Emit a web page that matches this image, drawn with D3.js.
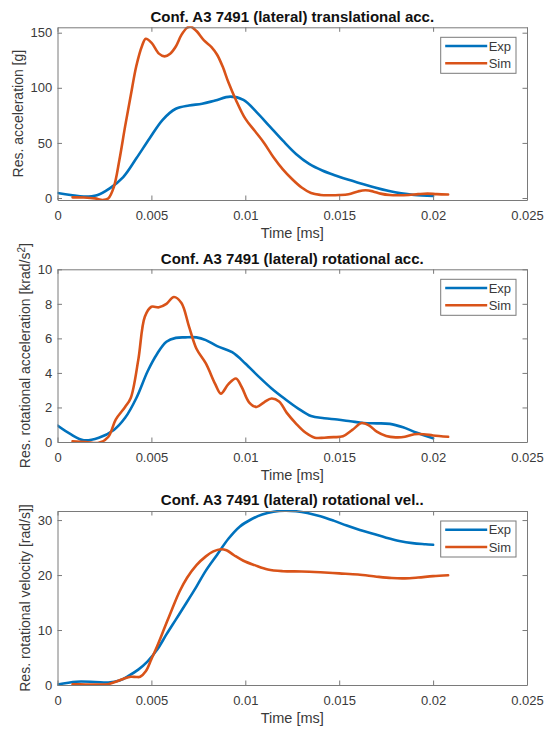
<!DOCTYPE html>
<html>
<head>
<meta charset="utf-8">
<script src="https://cdn.jsdelivr.net/npm/d3@7"></script>
<style>
  html, body { margin: 0; padding: 0; background: #fff; }
  svg { display: block; font-family: "Liberation Sans", Arial, Helvetica, sans-serif; }
</style>
</head>
<body>
<svg id="fig" width="547" height="729"></svg>
<script>
// Shared time axis (s, labelled as in the source figure)
const xTicks = [0, 0.005, 0.01, 0.015, 0.02, 0.025];
const xTickLabels = ["0", "0.005", "0.01", "0.015", "0.02", "0.025"];
const seriesNames = ["Exp", "Sim"];

// Translational acceleration [g]
const transExpTime = [0, 0.0007, 0.0014, 0.0021, 0.0028, 0.0035, 0.0042, 0.0049, 0.0056, 0.0063, 0.007, 0.0077, 0.0084, 0.0092, 0.0099, 0.0106, 0.0113, 0.012, 0.0127, 0.0134, 0.0141, 0.0148, 0.0155, 0.0162, 0.0169, 0.0176, 0.0183, 0.019, 0.02];
const transExp = [4.5, 2.8, 1.3, 2.5, 9, 19, 36, 54, 71, 81, 84, 85.5, 88.5, 92, 89, 78, 65, 52, 40, 31, 25, 20.5, 16.5, 13, 9.5, 6.5, 4.2, 2.8, 1.8];
const transSimTime = [0.0008, 0.0014, 0.002, 0.0024, 0.0027, 0.003, 0.0033, 0.0036, 0.0039, 0.0042, 0.0045, 0.0047, 0.005, 0.0054, 0.0057, 0.006, 0.0063, 0.0066, 0.0069, 0.0071, 0.0074, 0.0078, 0.0082, 0.0085, 0.0088, 0.0091, 0.0095, 0.01, 0.0105, 0.011, 0.0115, 0.012, 0.0125, 0.013, 0.0135, 0.014, 0.0145, 0.015, 0.0155, 0.016, 0.0164, 0.0168, 0.0172, 0.0177, 0.0182, 0.0187, 0.0192, 0.0197, 0.0202, 0.0208];
const transSim = [0.6, 0.5, -0.3, -1.8, -0.5, 10, 35, 65, 93, 120, 138, 144.5, 141, 131, 128.5, 131, 137.5, 148, 154.5, 155.5, 151.5, 143, 137, 130, 119, 105, 89, 72, 61, 50, 37, 26, 17, 9.5, 4.5, 2.8, 2.5, 2.7, 3.5, 6, 7, 6, 4, 2.7, 2.5, 2.8, 3.5, 4, 3.5, 3.2];
const transYTicks = [0, 50, 100, 150];

// Rotational acceleration [krad/s^2]
const rotAccExpTime = [0, 0.0007, 0.0014, 0.0022, 0.003, 0.0036, 0.0042, 0.0048, 0.0053, 0.0058, 0.0063, 0.0068, 0.0074, 0.0079, 0.0085, 0.0093, 0.01, 0.0107, 0.0114, 0.0121, 0.0128, 0.0135, 0.0142, 0.0149, 0.0156, 0.0163, 0.017, 0.0177, 0.0184, 0.0191, 0.02];
const rotAccExp = [0.95, 0.45, 0.1, 0.25, 0.7, 1.4, 2.55, 4.1, 5.1, 5.8, 6.03, 6.06, 6.06, 5.9, 5.55, 5.2, 4.55, 3.8, 3.1, 2.5, 1.95, 1.5, 1.38, 1.3, 1.2, 1.1, 1.08, 1.05, 0.85, 0.55, 0.22];
const rotAccSimTime = [0.0008, 0.0015, 0.0022, 0.0027, 0.0031, 0.0036, 0.0039, 0.0043, 0.00465, 0.005, 0.0054, 0.0058, 0.0062, 0.0066, 0.007, 0.0074, 0.0079, 0.0084, 0.0087, 0.0091, 0.0095, 0.0098, 0.0102, 0.0106, 0.011, 0.0114, 0.0118, 0.0122, 0.0127, 0.0132, 0.0137, 0.0142, 0.0147, 0.0152, 0.0157, 0.0162, 0.0166, 0.017, 0.0175, 0.018, 0.0185, 0.019, 0.0195, 0.02, 0.0208];
const rotAccSim = [0.04, 0.0, -0.05, 0.29, 1.3, 2.03, 2.55, 4.74, 7.25, 7.83, 7.8, 8.0, 8.4, 8.05, 6.7, 5.4, 4.55, 3.35, 2.8, 3.35, 3.68, 3.2, 2.3, 2.03, 2.3, 2.52, 2.35, 1.7, 1.07, 0.55, 0.25, 0.25, 0.28, 0.33, 0.7, 1.1, 0.95, 0.6, 0.35, 0.27, 0.3, 0.45, 0.45, 0.38, 0.3];
const rotAccYTicks = [0, 2, 4, 6, 8, 10];

// Rotational velocity [rad/s]
const rotVelExpTime = [0, 0.001, 0.002, 0.0027, 0.0033, 0.0038, 0.0043, 0.0048, 0.0053, 0.0058, 0.0063, 0.0068, 0.0074, 0.0079, 0.0085, 0.0091, 0.0097, 0.0103, 0.0109, 0.0115, 0.0121, 0.0127, 0.0133, 0.014, 0.0147, 0.0154, 0.0161, 0.0168, 0.0175, 0.0182, 0.0189, 0.0196, 0.02];
const rotVelExp = [0.1, 0.6, 0.55, 0.45, 0.8, 1.7, 2.8, 4.3, 6.4, 9.2, 11.9, 14.6, 17.9, 20.8, 23.7, 26.6, 28.8, 30.1, 31.0, 31.5, 31.7, 31.6, 31.3, 30.7, 29.9, 29.0, 28.2, 27.5, 26.8, 26.2, 25.8, 25.6, 25.5];
const rotVelSimTime = [0.0008, 0.0015, 0.0022, 0.0027, 0.0031, 0.0035, 0.0039, 0.0042, 0.0044, 0.0047, 0.005, 0.0053, 0.0057, 0.0061, 0.0065, 0.0069, 0.0074, 0.0079, 0.0083, 0.0087, 0.009, 0.0094, 0.0099, 0.0105, 0.0112, 0.012, 0.013, 0.014, 0.015, 0.016, 0.017, 0.0178, 0.0185, 0.0192, 0.02, 0.0208];
const rotVelSim = [0.12, 0.1, 0.08, 0.15, 0.6, 1.1, 1.5, 1.45, 1.5, 2.5, 4.7, 7.0, 10.4, 13.8, 17, 19.5, 21.8, 23.4, 24.3, 24.7, 24.5, 23.6, 22.6, 21.8, 21.0, 20.7, 20.65, 20.5, 20.3, 20.1, 19.7, 19.45, 19.4, 19.55, 19.8, 19.95];
const rotVelYTicks = [0, 10, 20, 30];

const colors = { Exp: "#0072BD", Sim: "#D95319" };
const axisColor = "#7a7a7a";
const textColor = "#3a3a3a";

const svg = d3.select("#fig");
const left = 57.5, right = 527;

const panels = [
  {
    title: "Conf. A3 7491 (lateral) translational acc.",
    ylabel: [{ t: "Res. acceleration [g]" }],
    ylabelX: 18,
    top: 27.3, bottom: 200, yDomain: [-1.8, 154.9], yTicks: transYTicks,
    series: [
      { name: "Exp", t: transExpTime, v: transExp },
      { name: "Sim", t: transSimTime, v: transSim }
    ]
  },
  {
    title: "Conf. A3 7491 (lateral) rotational acc.",
    ylabel: [{ t: "Res. rotational acceleration [krad/s" }, { t: "2", sup: true }, { t: "]" }],
    ylabelX: 25,
    top: 269.3, bottom: 442, yDomain: [0, 10], yTicks: rotAccYTicks,
    series: [
      { name: "Exp", t: rotAccExpTime, v: rotAccExp },
      { name: "Sim", t: rotAccSimTime, v: rotAccSim }
    ]
  },
  {
    title: "Conf. A3 7491 (lateral) rotational vel..",
    ylabel: [{ t: "Res. rotational velocity [rad/s]]" }],
    ylabelX: 25,
    top: 511, bottom: 685, yDomain: [0, 31.65], yTicks: rotVelYTicks,
    series: [
      { name: "Exp", t: rotVelExpTime, v: rotVelExp },
      { name: "Sim", t: rotVelSimTime, v: rotVelSim }
    ]
  }
];

const x = d3.scaleLinear().domain([0, 0.025]).range([left, right]);

panels.forEach((p, pi) => {
  const y = d3.scaleLinear().domain(p.yDomain).range([p.bottom, p.top]);
  const g = svg.append("g");

  // curves
  const clipId = "clip" + pi;
  g.append("clipPath").attr("id", clipId)
    .append("rect").attr("x", left).attr("y", p.top - 1)
    .attr("width", right - left).attr("height", p.bottom - p.top + 2);

  const line = d3.line().x(d => x(d[0])).y(d => y(d[1])).curve(d3.curveCatmullRom.alpha(0.5));
  p.series.forEach(s => {
    g.append("path")
      .attr("clip-path", `url(#${clipId})`)
      .attr("d", line(s.t.map((t, i) => [t, s.v[i]])))
      .attr("fill", "none")
      .attr("stroke", colors[s.name])
      .attr("stroke-width", 2.6)
      .attr("stroke-linejoin", "round")
      .attr("stroke-linecap", "round");
  });

  // axes (box with inward ticks on all four sides)
  const tick = 4.5;
  const bottomAxis = d3.axisBottom(x).tickValues(xTicks)
    .tickFormat((d, i) => xTickLabels[i]).tickSize(-tick).tickSizeOuter(0).tickPadding(10.3);
  const topAxis = d3.axisTop(x).tickValues(xTicks).tickFormat("").tickSize(-tick).tickSizeOuter(0);
  const leftAxis = d3.axisLeft(y).tickValues(p.yTicks).tickFormat(d3.format("d"))
    .tickSize(-tick).tickSizeOuter(0).tickPadding(5.2);
  const rightAxis = d3.axisRight(y).tickValues(p.yTicks).tickFormat("").tickSize(-tick).tickSizeOuter(0);

  const axes = [
    g.append("g").attr("transform", `translate(0,${p.bottom})`).call(bottomAxis),
    g.append("g").attr("transform", `translate(0,${p.top})`).call(topAxis),
    g.append("g").attr("transform", `translate(${left},0)`).call(leftAxis),
    g.append("g").attr("transform", `translate(${right},0)`).call(rightAxis)
  ];
  axes.forEach(a => {
    a.selectAll("path.domain").attr("stroke", axisColor).attr("stroke-width", 1);
    a.selectAll(".tick line").attr("stroke", axisColor).attr("stroke-width", 1);
    a.selectAll(".tick text").attr("fill", textColor)
      .style("font-size", "13px")
      .style("font-family", "'Liberation Sans', Arial, sans-serif");
  });

  // title
  g.append("text")
    .attr("x", (left + right) / 2).attr("y", p.top - 5.8)
    .attr("text-anchor", "middle")
    .style("font-size", "15px").style("font-weight", "bold")
    .attr("fill", "#111")
    .text(p.title);

  // x label
  g.append("text")
    .attr("x", (left + right) / 2).attr("y", p.bottom + 38)
    .attr("text-anchor", "middle")
    .style("font-size", "14.5px").attr("fill", textColor)
    .text("Time [ms]");

  // y label
  const yl = g.append("text")
    .attr("transform", `translate(${p.ylabelX},${(p.top + p.bottom) / 2}) rotate(-90)`)
    .attr("text-anchor", "middle")
    .attr("dy", "0.35em")
    .style("font-size", "14px").attr("fill", textColor);
  p.ylabel.forEach(part => {
    const ts = yl.append("tspan").text(part.t);
    if (part.sup) ts.attr("baseline-shift", "super").style("font-size", "10px");
  });

  // legend
  const lx = right - 11 - 75.3, ly = p.top + 10;
  const lg = g.append("g").attr("transform", `translate(${lx},${ly})`);
  lg.append("rect").attr("width", 75.3).attr("height", 36)
    .attr("fill", "#fff").attr("stroke", axisColor).attr("stroke-width", 1);
  seriesNames.forEach((name, i) => {
    const yy = 8.7 + i * 17.3;
    lg.append("line").attr("x1", 4.5).attr("x2", 46.5).attr("y1", yy).attr("y2", yy)
      .attr("stroke", colors[name]).attr("stroke-width", 2.6);
    lg.append("text").attr("x", 48).attr("y", yy + 4.6)
      .style("font-size", "13px").attr("fill", textColor).text(name);
  });
});
</script>
</body>
</html>
